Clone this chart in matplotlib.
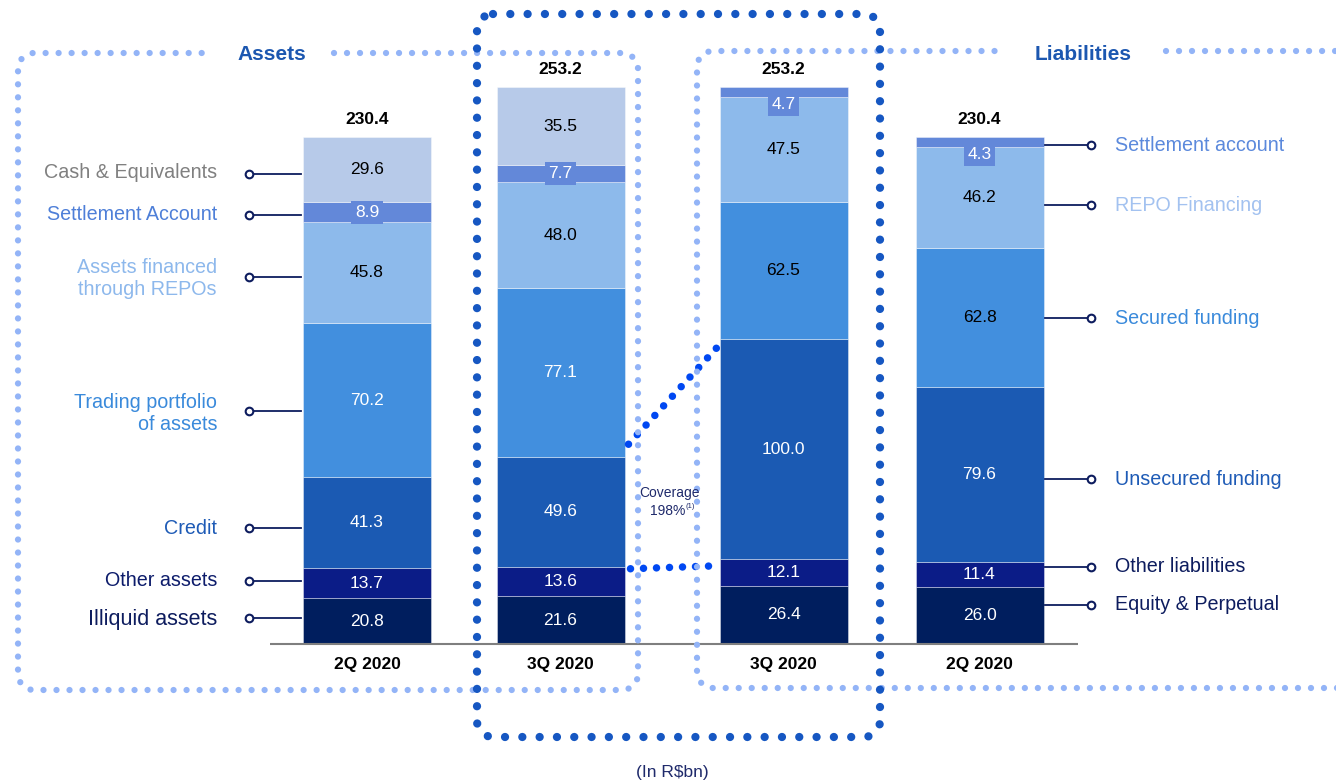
import matplotlib
matplotlib.use("Agg")
import matplotlib.pyplot as plt
import numpy as np

plt.rcParams["font.family"] = ["Liberation Sans", "DejaVu Sans"]

# ── Data (R$bn), bottom segment first ────────────────────────────────────────
bar_labels = ["2Q 2020", "3Q 2020", "3Q 2020", "2Q 2020"]
bar_totals = [230.4, 253.2, 253.2, 230.4]

illiquid   = [20.8, 21.6, 26.4, 26.0]    # illiquid assets / equity & perpetual
other      = [13.7, 13.6, 12.1, 11.4]    # other assets / other liabilities
credit     = [41.3, 49.6, 100.0, 79.6]   # credit / unsecured funding
trading    = [70.2, 77.1, 62.5, 62.8]    # trading portfolio / secured funding
repo       = [45.8, 48.0, 47.5, 46.2]    # assets via REPOs / REPO financing
settlement = [8.9, 7.7, 4.7, 4.3]
cash       = [29.6, 35.5, None, None]    # only on the asset side

asset_names = ["Cash & Equivalents", "Settlement Account",
               "Assets financed\nthrough REPOs", "Trading portfolio\nof assets",
               "Credit", "Other assets", "Illiquid assets"]
liab_names = ["Settlement account", "REPO Financing", "Secured funding",
              "Unsecured funding", "Other liabilities", "Equity & Perpetual"]
coverage_text = "198%"
# ─────────────────────────────────────────────────────────────────────────────

W, H = 1336, 784
BASE_PX = 644          # pixel row of the zero line
PX_PER_UNIT = 2.2
BAR_X = [367, 560.5, 783.5, 979.5]
BAR_W = 128

NAVY = "#0D1C5E"
LIGHT_DOT = "#93B4F7"
DARK_DOT = "#1657C2"
BRIGHT_DOT = "#0048F2"

series = [
    (illiquid,   "#001E5E", ["white"] * 4),
    (other,      "#0B1C87", ["white"] * 4),
    (credit,     "#1B5AB3", ["white"] * 4),
    (trading,    "#428FDE", ["white", "white", "black", "black"]),
    (repo,       "#8DBAEB", ["black"] * 4),
    (settlement, "#6388D9", ["white"] * 4),
    (cash,       "#B7CAE9", ["black"] * 4),
]

fig = plt.figure(figsize=(W / 100, H / 100), dpi=100)
fig.patch.set_facecolor("white")

# bars live in value units vertically, pixels horizontally
ax = fig.add_axes([0, 0, 1, 1])
ax.set_xlim(0, W)
ax.set_ylim(-(H - BASE_PX) / PX_PER_UNIT, BASE_PX / PX_PER_UNIT)
ax.axis("off")

# decorations in plain pixel coordinates (y down)
deco = fig.add_axes([0, 0, 1, 1], zorder=3)
deco.set_xlim(0, W)
deco.set_ylim(H, 0)
deco.axis("off")
deco.patch.set_alpha(0)


def dotted(a, xs, ys, color, diam_px, step_px, z=2):
    lw = diam_px * 0.72
    off = step_px * 0.72 / lw
    a.plot(xs, ys, color=color, lw=lw, linestyle=(0, (0.001, off)),
           dash_capstyle="round", solid_capstyle="round", zorder=z,
           clip_on=False)


def rounded_outline(x0, y0, x1, y1, r, gap=None, n=14):
    t = np.linspace(0, np.pi / 2, n)
    start = gap[1] if gap else x0 + r
    pts = [(start, y0)]
    pts += [(x1 - r + r * np.sin(a), y0 + r - r * np.cos(a)) for a in t]
    pts += [(x1 - r + r * np.cos(a), y1 - r + r * np.sin(a)) for a in t]
    pts += [(x0 + r - r * np.sin(a), y1 - r + r * np.cos(a)) for a in t]
    pts += [(x0 + r - r * np.cos(a), y0 + r - r * np.sin(a)) for a in t]
    pts.append((gap[0] if gap else start, y0))
    xs, ys = zip(*pts)
    return xs, ys


# ── Stacked bars ─────────────────────────────────────────────────────────────
bottoms = [0.0] * 4
tops = []
for vals, color, txt_colors in series:
    level = []
    for i, v in enumerate(vals):
        if v is None:
            level.append(None)
            continue
        ax.bar(BAR_X[i], v, width=BAR_W, bottom=bottoms[i], color=color,
               edgecolor=(1, 1, 1, 0.45), linewidth=0.6, zorder=2)
        if vals is settlement:
            box = dict(boxstyle="square,pad=0.22", fc=color, ec="none")
            if v < 6:
                ax.text(BAR_X[i], bottoms[i], f"{v:.1f}", ha="center", va="top",
                        fontsize=12.5, color="white", bbox=box, zorder=4)
            else:
                ax.text(BAR_X[i], bottoms[i] + v / 2, f"{v:.1f}", ha="center",
                        va="center", fontsize=12.5, color="white", bbox=box, zorder=4)
        else:
            ax.text(BAR_X[i], bottoms[i] + v / 2, f"{v:.1f}", ha="center",
                    va="center", fontsize=12.5, color=txt_colors[i], zorder=4)
        bottoms[i] += v
        level.append(bottoms[i])
    tops.append(level)

for i, tot in enumerate(bar_totals):
    ax.annotate(f"{tot:.1f}", (BAR_X[i], tot), xytext=(0, 7),
                textcoords="offset points", ha="center", va="bottom",
                fontsize=12.5, fontweight="bold", color="black")
    ax.text(BAR_X[i], -21 / PX_PER_UNIT, bar_labels[i], ha="center",
            va="center", fontsize=12.5, fontweight="bold", color="black")

ax.plot([270, 1078], [0, 0], color="#7F7F7F", lw=1.5, zorder=3,
        solid_capstyle="butt")

# ── Coverage connectors between the two 3Q bars ──────────────────────────────
x_from = BAR_X[1] + BAR_W / 2 + 4
x_to = BAR_X[2] - BAR_W / 2 + 1
up_a, up_b = tops[2][1] + 6, tops[2][2] - 2     # credit tops
lo_a, lo_b = tops[1][1] - 1, tops[1][2] - 3     # other tops
dotted(ax, [x_from, x_to], [up_a, up_b], BRIGHT_DOT, 7.5, 13, z=5)
dotted(ax, [x_from + 2, x_to - 6], [lo_a, lo_b], BRIGHT_DOT, 7.5, 13, z=5)

deco.text(669, 493, "Coverage", ha="center", va="center", fontsize=10,
          color="#1F2A6B")
deco.text(685, 511, coverage_text, ha="right", va="center", fontsize=10,
          color="#1F2A6B")
deco.text(685, 506, "(1)", ha="left", va="center", fontsize=5.5,
          color="#1F2A6B")

# ── Dotted frames ────────────────────────────────────────────────────────────
xs, ys = rounded_outline(18, 53, 638, 690, 16, gap=(206, 334))
dotted(deco, xs, ys, LIGHT_DOT, 6.3, 13)
xs, ys = rounded_outline(697, 51, 1352, 688, 16, gap=(1000, 1166))
dotted(deco, xs, ys, LIGHT_DOT, 6.3, 13)
xs, ys = rounded_outline(477, 14, 880, 737, 16)
dotted(deco, xs, ys, DARK_DOT, 8.3, 17.3)

deco.text(272, 54, "Assets", ha="center", va="center", fontsize=15,
          fontweight="bold", color="#1C57B0")
deco.text(1083, 54, "Liabilities", ha="center", va="center", fontsize=15,
          fontweight="bold", color="#1C57B0")

# ── Category call-outs ───────────────────────────────────────────────────────
left_rows = [174, 215, 277, 411, 528, 581, 618]
left_txt_y = [172, 214, 278, 413, 529, 581, 619]
left_colors = ["#808080", "#4E7FD8", "#8DB8EC", "#3A8ADB", "#1E5BB6",
               "#0D1C6B", NAVY]
left_sizes = [14.2, 14.2, 14.2, 14.2, 14.2, 14.2, 15.5]
for name, yl, yt, c, fs in zip(asset_names, left_rows, left_txt_y,
                               left_colors, left_sizes):
    deco.plot([253, 301], [yl, yl], color=NAVY, lw=1.3, zorder=2)
    deco.plot(249, yl, "o", ms=5.5, mfc="white", mec=NAVY, mew=1.5, zorder=3)
    deco.text(217, yt, name, ha="right", va="center", fontsize=fs, color=c,
              linespacing=1.2)

right_rows = [145, 205, 318, 479, 567, 605]
right_colors = ["#5B89DC", "#A3C2F0", "#3A8ADB", "#1E5BB6", NAVY, NAVY]
for name, yl, c in zip(liab_names, right_rows, right_colors):
    deco.plot([1045, 1087], [yl, yl], color=NAVY, lw=1.3, zorder=2)
    deco.plot(1091, yl, "o", ms=5.5, mfc="white", mec=NAVY, mew=1.5, zorder=3)
    deco.text(1115, yl, name, ha="left", va="center", fontsize=14.2, color=c)

deco.text(672, 773, "(In R\\$bn)", ha="center", va="center", fontsize=12.5,
          color="#1F2A6B")

fig.savefig("out.png", dpi=100, facecolor="white")
